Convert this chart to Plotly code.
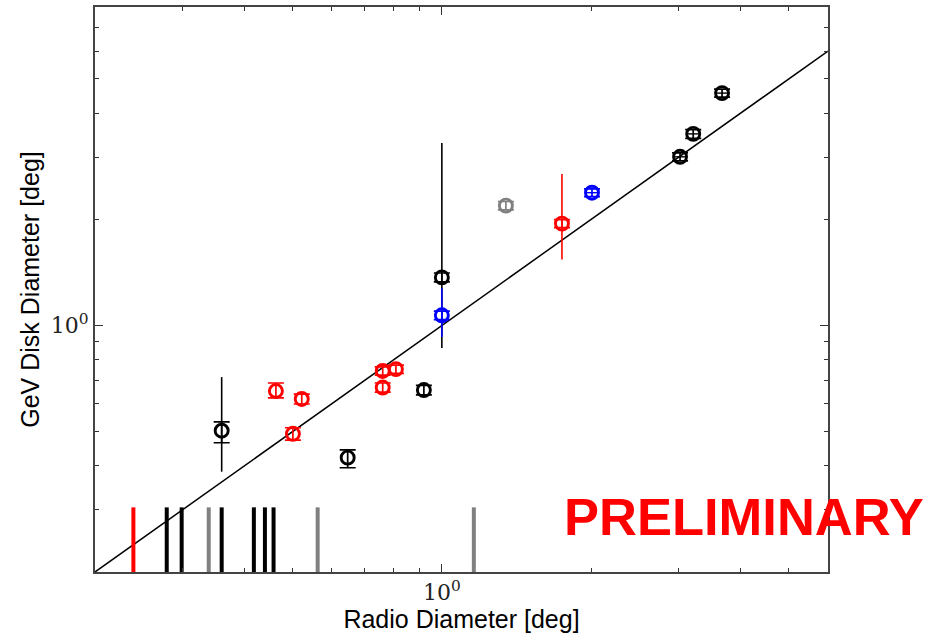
import math
import plotly.graph_objects as go

# Detected disks: radio diameter vs fitted GeV disk diameter (deg)
black_radio = [0.360, 0.646, 0.920, 1.000, 3.02, 3.21, 3.67]
black_gev = [0.503, 0.422, 0.656, 1.369, 3.008, 3.494, 4.56]
black_err_hi = [0.030, 0.022, 0.020, 0.040, 0.08, 0.10, 0.12]
black_err_lo = [0.038, 0.027, 0.020, 0.040, 0.08, 0.10, 0.12]
black_xerr = [0.0, 0.0, 0.0, 0.0, 0.08, 0.08, 0.09]
black_sys_hi = [0.211, 0.0, 0.0, 1.925, 0.0, 0.0, 0.0]
black_sys_lo = [0.118, 0.0, 0.0, 0.506, 0.0, 0.0, 0.0]

red_radio = [0.463, 0.522, 0.501, 0.760, 0.808, 0.760, 1.746]
red_gev = [0.652, 0.619, 0.493, 0.743, 0.752, 0.667, 1.945]
red_err_hi = [0.035, 0.020, 0.020, 0.020, 0.020, 0.020, 0.05]
red_err_lo = [0.029, 0.020, 0.020, 0.020, 0.020, 0.020, 0.05]
red_sys_hi = [0.0, 0.0, 0.0, 0.0, 0.0, 0.0, 0.745]
red_sys_lo = [0.0, 0.0, 0.0, 0.0, 0.0, 0.0, 0.406]

blue_radio = [1.000, 2.007]
blue_gev = [1.069, 2.380]
blue_err_hi = [0.030, 0.06]
blue_err_lo = [0.030, 0.06]
blue_xerr = [0.0, 0.05]
blue_sys_hi = [0.206, 0.0]
blue_sys_lo = [0.142, 0.0]

gray_radio = [1.346]
gray_gev = [2.187]
gray_err_hi = [0.06]
gray_err_lo = [0.06]

# Sources without a GeV disk: radio diameters shown as ticks along the bottom
undetected_radio = [0.239, 0.279, 0.299, 0.339, 0.360, 0.418, 0.440, 0.458, 0.562, 1.16]
undetected_color = ["red", "black", "black", "gray", "black", "black", "black", "black", "gray", "gray"]
rug_bottom, rug_top = 0.2, 0.305

x_lo, x_hi = 0.2, 6.0
y_lo, y_hi = 0.2, 8.0

fig = go.Figure()

# one-to-one line
fig.add_trace(go.Scatter(x=[x_lo, x_hi], y=[x_lo, x_hi], mode="lines",
                         line=dict(color="black", width=1.5), hoverinfo="skip"))

# radio-only rug
for col in ["red", "black", "gray"]:
    xs, ys = [], []
    for xv, c in zip(undetected_radio, undetected_color):
        if c == col:
            xs += [xv, xv, None]
            ys += [rug_bottom, rug_top, None]
    fig.add_trace(go.Scatter(x=xs, y=ys, mode="lines",
                             line=dict(color=col, width=4), hoverinfo="skip"))


def add_group(xv, yv, color, ehi, elo, shi=None, slo=None, xerr=None):
    # systematic range: thin line, no caps
    if shi is not None:
        fig.add_trace(go.Scatter(
            x=xv, y=yv, mode="markers", marker=dict(size=1, opacity=0),
            error_y=dict(type="data", symmetric=False, array=shi, arrayminus=slo,
                         color=color, thickness=1.6, width=0),
            hoverinfo="skip"))
    ex = None
    if xerr is not None:
        ex = dict(type="data", array=xerr, color=color, thickness=1.4, width=0)
    fig.add_trace(go.Scatter(
        x=xv, y=yv, mode="markers",
        marker=dict(symbol="circle-open", size=13, color=color,
                    line=dict(width=2.9, color=color)),
        error_y=dict(type="data", symmetric=False, array=ehi, arrayminus=elo,
                     color=color, thickness=1.7, width=8),
        error_x=ex))


add_group(black_radio, black_gev, "black", black_err_hi, black_err_lo,
          black_sys_hi, black_sys_lo, black_xerr)
add_group(red_radio, red_gev, "red", red_err_hi, red_err_lo, red_sys_hi, red_sys_lo)
add_group(blue_radio, blue_gev, "blue", blue_err_hi, blue_err_lo,
          blue_sys_hi, blue_sys_lo, blue_xerr)
add_group(gray_radio, gray_gev, "gray", gray_err_hi, gray_err_lo)

minor_vals = [k * 10 ** e for e in (-1, 0) for k in range(2, 10)]
tick_font = dict(family="DejaVu Serif", size=22, color="#222")
axis_common = dict(
    type="log", showgrid=False, zeroline=False,
    showline=True, linecolor="#444", linewidth=2, mirror="allticks",
    ticks="inside", ticklen=8, tickwidth=1, tickcolor="#333",
    tickvals=[1], ticktext=["10<sup>0</sup>"], tickfont=tick_font,
    minor=dict(ticks="inside", ticklen=4, tickwidth=1, tickcolor="#333",
               tickvals=minor_vals, showgrid=False),
)

fig.update_layout(
    width=931, height=636,
    margin=dict(l=95, r=103, t=5, b=64),
    paper_bgcolor="white", plot_bgcolor="white",
    showlegend=False,
    xaxis=dict(axis_common, range=[math.log10(x_lo), math.log10(x_hi)],
               title=dict(text="Radio Diameter [deg]",
                          font=dict(family="Liberation Sans", size=25, color="black"),
                          standoff=2)),
    yaxis=dict(axis_common, range=[math.log10(y_lo), math.log10(y_hi)],
               title=dict(text="GeV Disk Diameter [deg]",
                          font=dict(family="Liberation Sans", size=25, color="black"),
                          standoff=4)),
)

fig.add_annotation(
    text="<b>PRELIMINARY</b>", xref="paper", yref="paper",
    x=0.885, y=0.099, xanchor="center", yanchor="middle", showarrow=False,
    font=dict(family="Liberation Sans", size=52.5, color="red"),
)

fig.write_html("out.html")
